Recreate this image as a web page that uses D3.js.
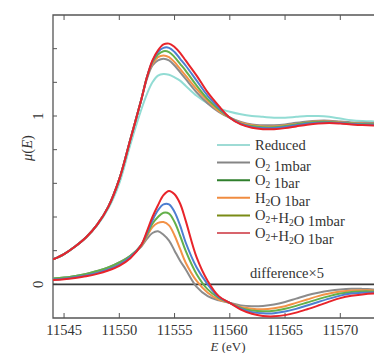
<!DOCTYPE html>
<html>
<head>
<meta charset="utf-8">
<script src="https://cdn.jsdelivr.net/npm/d3@7"></script>
<style>
  html, body { margin: 0; padding: 0; background: #fff; overflow: hidden; }
  svg { display: block; }
</style>
</head>
<body>
<svg id="chart" width="374" height="353"></svg>
<script>
// ─── Data ────────────────────────────────────────────────────────────────────
const energy = [11544, 11545, 11546, 11547, 11548, 11549, 11550, 11551, 11552, 11552.5,
  11553, 11553.5, 11554, 11554.5, 11555, 11555.5, 11556, 11557, 11558, 11559, 11560,
  11561, 11562, 11563, 11564, 11565, 11566, 11567, 11568, 11569, 11570, 11571, 11572, 11573, 11574];

// normalised spectra
const muReduced = [0.148, 0.18, 0.225, 0.28, 0.35, 0.45, 0.60, 0.83, 1.04, 1.13,
  1.20, 1.24, 1.25, 1.245, 1.23, 1.21, 1.18, 1.12, 1.075, 1.045, 1.025,
  1.01, 1.0, 0.995, 0.99, 0.99, 0.995, 1.0, 1.0, 0.995, 0.985, 0.975, 0.97, 0.968, 0.967];
const muO2mbar = [0.148, 0.18, 0.225, 0.28, 0.355, 0.46, 0.625, 0.86, 1.10, 1.22,
  1.30, 1.33, 1.34, 1.33, 1.30, 1.26, 1.22, 1.14, 1.075, 1.025, 0.99,
  0.965, 0.95, 0.945, 0.945, 0.95, 0.96, 0.968, 0.972, 0.972, 0.967, 0.962, 0.96, 0.958, 0.958];
const muH2Obar = [0.148, 0.18, 0.225, 0.28, 0.355, 0.46, 0.625, 0.86, 1.10, 1.23,
  1.31, 1.35, 1.36, 1.35, 1.32, 1.28, 1.24, 1.16, 1.09, 1.03, 0.99,
  0.96, 0.945, 0.937, 0.937, 0.943, 0.952, 0.962, 0.967, 0.967, 0.962, 0.957, 0.955, 0.954, 0.954];
const muO2bar = [0.148, 0.18, 0.225, 0.28, 0.355, 0.46, 0.625, 0.86, 1.10, 1.23,
  1.32, 1.365, 1.385, 1.38, 1.35, 1.31, 1.27, 1.18, 1.10, 1.04, 0.99,
  0.955, 0.94, 0.933, 0.933, 0.94, 0.95, 0.96, 0.965, 0.965, 0.96, 0.955, 0.952, 0.951, 0.951];
const muMixMbar = [0.148, 0.18, 0.225, 0.28, 0.355, 0.46, 0.625, 0.86, 1.10, 1.23,
  1.325, 1.38, 1.405, 1.405, 1.38, 1.34, 1.30, 1.21, 1.12, 1.05, 0.99,
  0.953, 0.935, 0.928, 0.928, 0.935, 0.945, 0.955, 0.96, 0.962, 0.958, 0.952, 0.949, 0.948, 0.948];
const muMixBar = [0.148, 0.18, 0.225, 0.28, 0.355, 0.46, 0.625, 0.86, 1.10, 1.23,
  1.33, 1.39, 1.425, 1.43, 1.41, 1.375, 1.33, 1.24, 1.14, 1.06, 0.99,
  0.95, 0.93, 0.922, 0.922, 0.928, 0.938, 0.948, 0.955, 0.958, 0.955, 0.95, 0.946, 0.944, 0.944];

// difference x5 (vs reduced)
const dO2mbar = [0.035, 0.04, 0.05, 0.062, 0.08, 0.10, 0.13, 0.17, 0.225, 0.27,
  0.305, 0.315, 0.295, 0.26, 0.2, 0.14, 0.09, -0.015, -0.07, -0.095, -0.11,
  -0.125, -0.13, -0.128, -0.12, -0.105, -0.085, -0.065, -0.05, -0.038, -0.03, -0.026, -0.027, -0.03, -0.03];
const dH2Obar = [0.03, 0.035, 0.045, 0.056, 0.072, 0.092, 0.12, 0.165, 0.23, 0.285,
  0.34, 0.365, 0.37, 0.35, 0.29, 0.21, 0.13, 0.02, -0.05, -0.09, -0.11,
  -0.135, -0.145, -0.148, -0.142, -0.13, -0.11, -0.09, -0.07, -0.055, -0.043, -0.036, -0.035, -0.036, -0.037];
const dO2bar = [0.035, 0.04, 0.05, 0.062, 0.08, 0.10, 0.13, 0.17, 0.235, 0.295,
  0.36, 0.40, 0.425, 0.42, 0.37, 0.29, 0.20, 0.06, -0.03, -0.08, -0.11,
  -0.14, -0.155, -0.16, -0.157, -0.145, -0.128, -0.108, -0.088, -0.07, -0.055, -0.045, -0.042, -0.042, -0.042];
const dMixMbar = [0.028, 0.033, 0.042, 0.053, 0.068, 0.088, 0.117, 0.162, 0.235, 0.305,
  0.38, 0.44, 0.475, 0.475, 0.43, 0.35, 0.25, 0.10, 0.0, -0.075, -0.11,
  -0.145, -0.165, -0.172, -0.172, -0.162, -0.146, -0.126, -0.105, -0.085, -0.067, -0.055, -0.05, -0.048, -0.047];
const dMixBar = [0.025, 0.03, 0.038, 0.048, 0.062, 0.082, 0.11, 0.155, 0.235, 0.315,
  0.40, 0.47, 0.53, 0.555, 0.535, 0.48, 0.38, 0.16, 0.02, -0.07, -0.11,
  -0.15, -0.175, -0.188, -0.19, -0.183, -0.168, -0.148, -0.126, -0.103, -0.082, -0.068, -0.06, -0.055, -0.053];

const xTicks = [11545, 11550, 11555, 11560, 11565, 11570];
const yTicks = [0, 0.2, 0.4, 0.6, 0.8, 1.0, 1.2, 1.4];
const yLabels = [0, 1];

// plot colours and legend swatch colours (legend differs slightly in the source)
const series = [
  { name: 'Reduced',      mu: muReduced, diff: null,     color: '#92dcd4', key: '#9edbd5' },
  { name: 'O2 1mbar',     mu: muO2mbar,  diff: dO2mbar,  color: '#8c8c8c', key: '#858585' },
  { name: 'H2O 1bar',     mu: muH2Obar,  diff: dH2Obar,  color: '#f39247', key: '#f08c40' },
  { name: 'O2 1bar',      mu: muO2bar,   diff: dO2bar,   color: '#63b04a', key: '#2f7f2c' },
  { name: 'O2+H2O 1mbar', mu: muMixMbar, diff: dMixMbar, color: '#4d7fd0', key: '#7a8b16' },
  { name: 'O2+H2O 1bar',  mu: muMixBar,  diff: dMixBar,  color: '#e8242a', key: '#d8646c' },
];
const legendOrder = ['Reduced', 'O2 1mbar', 'O2 1bar', 'H2O 1bar', 'O2+H2O 1mbar', 'O2+H2O 1bar'];

// ─── Layout ──────────────────────────────────────────────────────────────────
const W = 374, H = 353;
const M = { left: 53, top: 15, bottom: 318 };
const FONT = '"Liberation Serif", "DejaVu Serif", serif';
const INK = '#333';
const AXIS = '#555';

const svg = d3.select('#chart');
const x = d3.scaleLinear().domain([11544, 11574]).range([M.left, 384.5]);
const y = d3.scaleLinear().domain([-0.2, 1.6]).range([M.bottom, M.top]);

svg.append('clipPath').attr('id', 'clip')
  .append('rect').attr('x', M.left).attr('y', M.top)
  .attr('width', W - M.left).attr('height', M.bottom - M.top);

// frame: left, top, bottom
svg.append('path')
  .attr('d', `M${W},${M.top}H${M.left}V${M.bottom}H${W}`)
  .attr('fill', 'none').attr('stroke', AXIS).attr('stroke-width', 1.3);

// ticks (inward)
svg.selectAll('line.xb').data(xTicks).enter().append('line')
  .attr('x1', d => x(d)).attr('x2', d => x(d))
  .attr('y1', M.bottom).attr('y2', M.bottom - 5)
  .attr('stroke', AXIS).attr('stroke-width', 1);
svg.selectAll('line.xt').data(xTicks).enter().append('line')
  .attr('x1', d => x(d)).attr('x2', d => x(d))
  .attr('y1', M.top).attr('y2', M.top + 5)
  .attr('stroke', AXIS).attr('stroke-width', 1);
svg.selectAll('line.yl').data(yTicks).enter().append('line')
  .attr('x1', M.left).attr('x2', M.left + 4)
  .attr('y1', d => y(d)).attr('y2', d => y(d))
  .attr('stroke', AXIS).attr('stroke-width', 1);

// tick labels
svg.selectAll('text.xl').data(xTicks).enter().append('text')
  .attr('x', d => x(d)).attr('y', 335)
  .attr('text-anchor', 'middle').attr('font-family', FONT)
  .attr('font-size', 14.5).attr('fill', INK)
  .text(d => String(d));
svg.selectAll('text.ylab').data(yLabels).enter().append('text')
  .attr('transform', d => `translate(43,${y(d)}) rotate(-90)`)
  .attr('text-anchor', 'middle').attr('font-family', FONT)
  .attr('font-size', 14.5).attr('fill', INK)
  .text(d => String(d));

// axis titles
const yt = svg.append('text')
  .attr('transform', `translate(32,148) rotate(-90)`)
  .attr('text-anchor', 'middle').attr('font-family', FONT)
  .attr('font-size', 14.5).attr('fill', INK);
yt.append('tspan').attr('font-style', 'italic').text('μ');
yt.append('tspan').text('(');
yt.append('tspan').attr('font-style', 'italic').text('E');
yt.append('tspan').text(')');

const xt = svg.append('text')
  .attr('x', 228).attr('y', 350.5)
  .attr('text-anchor', 'middle').attr('font-family', FONT)
  .attr('font-size', 13).attr('fill', INK);
xt.append('tspan').attr('font-style', 'italic').text('E');
xt.append('tspan').text(' (eV)');

// zero line for differences
svg.append('line')
  .attr('x1', M.left).attr('x2', W)
  .attr('y1', y(0)).attr('y2', y(0))
  .attr('stroke', '#3a3a3a').attr('stroke-width', 1.8);

svg.append('text')
  .attr('x', 287).attr('y', 278)
  .attr('text-anchor', 'middle').attr('font-family', FONT)
  .attr('font-size', 14.5).attr('fill', INK)
  .text('difference×5');

// curves
const line = d3.line()
  .x((d, i) => x(energy[i]))
  .y(d => y(d))
  .curve(d3.curveCatmullRom.alpha(0.5));

const curves = svg.append('g').attr('clip-path', 'url(#clip)');
series.filter(s => s.diff).forEach(s => {
  curves.append('path').attr('d', line(s.diff))
    .attr('fill', 'none').attr('stroke', s.color).attr('stroke-width', 2);
});
series.forEach(s => {
  curves.append('path').attr('d', line(s.mu))
    .attr('fill', 'none').attr('stroke', s.color).attr('stroke-width', 2);
});

// legend — "O2"/"H2" get a subscript 2
function addLabel(sel, name) {
  name.split(/(O2|H2)/).filter(p => p.length).forEach(p => {
    if (p === 'O2' || p === 'H2') {
      sel.append('tspan').text(p[0]);
      sel.append('tspan').attr('font-size', 9.5).attr('dy', 3).text('2');
      sel.append('tspan').attr('dy', -3).text('');
    } else {
      sel.append('tspan').text(p);
    }
  });
}

const legend = svg.append('g');
legendOrder.forEach((name, i) => {
  const s = series.find(d => d.name === name);
  const ly = 145 + i * 17.6;
  legend.append('line')
    .attr('x1', 217).attr('x2', 250).attr('y1', ly).attr('y2', ly)
    .attr('stroke', s.key).attr('stroke-width', 2);
  const t = legend.append('text')
    .attr('x', 255).attr('y', ly + 5)
    .attr('font-family', FONT).attr('font-size', 14.5).attr('fill', INK);
  addLabel(t, name);
});
</script>
</body>
</html>
